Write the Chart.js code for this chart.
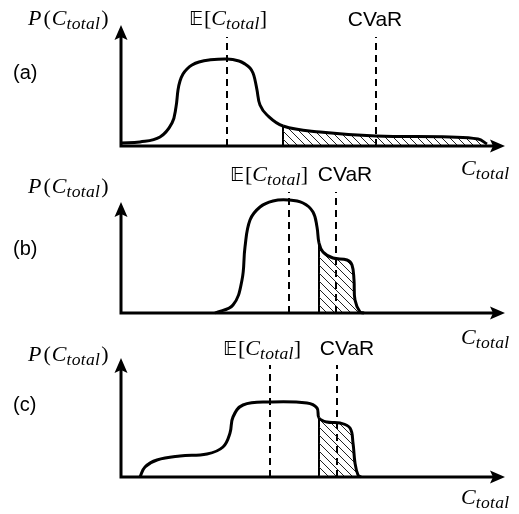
<!DOCTYPE html>
<html>
<head>
<meta charset="utf-8">
<script src="https://cdn.jsdelivr.net/npm/chart.js@4.4.1/dist/chart.umd.min.js"></script>
<style>
  body { margin: 0; background: #fff; }
  #wrap { position: relative; width: 519px; height: 514px; overflow: hidden; background: #fff; }
  canvas { position: absolute; left: 0; }
  .lbl { position: absolute; white-space: nowrap; line-height: 1; color: #000; }
  .math { font-family: "Liberation Serif", "DejaVu Serif", serif; font-size: 22px; }
  .math i { font-style: italic; }
  .math .p { margin-right: 2px; }
  .math .c { margin-left: 1px; }
  .math .r { margin-left: 1px; }
  .sub { position: relative; top: 0.26em; font-size: 0.8em; font-style: italic; letter-spacing: 0.3px; }
  .bb { font-family: "DejaVu Sans", sans-serif; font-size: 0.88em; margin-right: 1px; }
  .sans { font-family: "Liberation Sans", Arial, sans-serif; font-size: 21px; }
  .tag { font-family: "Liberation Sans", Arial, sans-serif; font-size: 20px; }
</style>
</head>
<body>
<div id="wrap">
  <canvas id="chartA" width="519" height="170" style="top:0px"></canvas>
  <canvas id="chartB" width="519" height="170" style="top:170px"></canvas>
  <canvas id="chartC" width="519" height="174" style="top:340px"></canvas>
</div>

<script>
// ================================
// DATA (x = cost, y = density, schematic units)
// ================================
const xMax = 384;

// ---- PANEL (a): long light tail ----
const curveA_x = [0, 19, 39, 51, 55, 57, 59, 62, 66, 71, 78, 88, 106, 118, 124, 129, 132, 134, 136, 139, 146, 162, 199, 255, 329, 357, 366];
const curveA_y = [3, 4, 9, 23, 39, 56, 65, 72, 77, 81, 84, 86, 87, 85, 82, 78, 73, 66, 56, 41, 31, 20, 14, 10, 9, 7, 2];
const meanA = 106;
const cvarA = 255;
const tailA = 162;
const axisTopA = 121;
const markTopA = 109;

// ---- PANEL (b): bump near the tail ----
const curveB_x = [94, 112, 121, 124, 129, 139, 152, 167, 182, 192, 196, 198, 202, 212, 226, 231, 233, 234, 239, 243];
const curveB_y = [0, 8, 33, 66, 93, 106, 112, 113, 110, 101, 86, 70, 61, 55, 53, 48, 33, 13, 1, 0];
const meanB = 168;
const cvarB = 215;
const tailB = 198;
const axisTopB = 111;
const markTopB = 121;

// ---- PANEL (c): wide low shoulder ----
const curveC_x = [19, 24, 36, 59, 86, 102, 109, 112, 122, 149, 186, 196, 198, 206, 219, 229, 232, 234, 237, 240];
const curveC_y = [0, 10, 17, 21, 23, 30, 44, 60, 72, 75, 74, 69, 59, 55, 54, 49, 34, 14, 2, 0];
const meanC = 149;
const cvarC = 216;
const tailC = 198;
const axisTopC = 119;
const markTopC = 112;

// ================================
// HELPERS
// ================================
function toPoints(xs, ys) {
  return xs.map((x, i) => ({ x: x, y: ys[i] }));
}

function hatchPattern() {
  const c = document.createElement("canvas");
  c.width = 8;
  c.height = 8;
  const g = c.getContext("2d");
  g.strokeStyle = "#222";
  g.lineWidth = 1;
  g.beginPath();
  g.moveTo(-2, -2); g.lineTo(10, 10);
  g.moveTo(-2, 6); g.lineTo(2, 10);
  g.moveTo(6, -2); g.lineTo(10, 2);
  g.stroke();
  return g.createPattern(c, "repeat");
}

// ---- axes with arrow heads ----
const arrowAxes = {
  id: "arrowAxes",
  afterDatasetsDraw(chart, args, opts) {
    const ctx = chart.ctx;
    const sx = chart.scales.x, sy = chart.scales.y;
    const x0 = sx.getPixelForValue(0);
    const y0 = sy.getPixelForValue(0);
    const xEnd = sx.getPixelForValue(xMax);
    const yEnd = sy.getPixelForValue(opts.top);
    ctx.save();
    ctx.strokeStyle = "#000";
    ctx.fillStyle = "#000";
    ctx.lineWidth = 3;
    ctx.lineCap = "square";
    ctx.beginPath();
    ctx.moveTo(x0, y0); ctx.lineTo(xEnd - 8, y0);
    ctx.moveTo(x0, y0); ctx.lineTo(x0, yEnd + 8);
    ctx.stroke();
    ctx.beginPath();
    ctx.moveTo(xEnd, y0); ctx.lineTo(xEnd - 15, y0 - 6.5); ctx.lineTo(xEnd - 12, y0); ctx.lineTo(xEnd - 15, y0 + 6.5);
    ctx.closePath();
    ctx.fill();
    ctx.beginPath();
    ctx.moveTo(x0, yEnd); ctx.lineTo(x0 - 6.5, yEnd + 15); ctx.lineTo(x0, yEnd + 12); ctx.lineTo(x0 + 6.5, yEnd + 15);
    ctx.closePath();
    ctx.fill();
    ctx.restore();
  }
};

function makePanel(id, pad, yMax, axisTop, xs, ys, mean, cvar, tail, markTop) {
  const curve = toPoints(xs, ys);
  const tailY = ys[xs.indexOf(tail)];
  const hatch = hatchPattern();
  const dash = { borderColor: "#000", borderWidth: 2, borderDash: [7, 5], pointRadius: 0, fill: false, clip: false, order: 1 };

  return new Chart(document.getElementById(id), {
    type: "line",
    data: {
      datasets: [
        // density curve, hatched beyond the tail threshold
        { data: curve, borderColor: "#000", borderWidth: 3, pointRadius: 0, tension: 0.4,
          fill: "origin", backgroundColor: "rgba(0,0,0,0)", clip: false, order: 0,
          segment: { backgroundColor: c => c.p0.parsed.x >= tail ? hatch : "rgba(0,0,0,0)" } },
        { data: [{ x: tail, y: 0 }, { x: tail, y: tailY }], borderColor: "#000", borderWidth: 2,
          pointRadius: 0, fill: false, clip: false, order: 2 },
        Object.assign({ data: [{ x: mean, y: 0 }, { x: mean, y: markTop }] }, dash),
        Object.assign({ data: [{ x: cvar, y: 0 }, { x: cvar, y: markTop }] }, dash)
      ]
    },
    options: {
      responsive: false,
      animation: false,
      devicePixelRatio: 1,
      layout: { padding: pad },
      plugins: { legend: { display: false }, tooltip: { enabled: false }, arrowAxes: { top: axisTop } },
      scales: {
        x: { type: "linear", min: 0, max: xMax, display: false },
        y: { type: "linear", min: 0, max: yMax, display: false }
      }
    },
    plugins: [arrowAxes]
  });
}

// ================================
// CHARTS
// ================================
makePanel("chartA", { left: 121, right: 14, top: 25, bottom: 24 }, 121, axisTopA,
  curveA_x, curveA_y, meanA, cvarA, tailA, markTopA);
makePanel("chartB", { left: 121, right: 14, top: 22, bottom: 27 }, 121, axisTopB,
  curveB_x, curveB_y, meanB, cvarB, tailB, markTopB);
makePanel("chartC", { left: 121, right: 14, top: 18, bottom: 37 }, 119, axisTopC,
  curveC_x, curveC_y, meanC, cvarC, tailC, markTopC);

// ================================
// LABELS
// ================================
const P_LABEL = '<i class="p">P</i>(<i class="c">C</i><span class="sub">total</span><span class="r">)</span>';
const E_LABEL = '<span class="bb">𝔼</span>[<i>C</i><span class="sub">total</span>]';
const C_LABEL = '<i>C</i><span class="sub">total</span>';
const SIZES = { math: 22, sans: 21, tag: 20 };

function label(html, cls, x, baseline, center) {
  const d = document.createElement("div");
  d.className = "lbl " + cls;
  d.innerHTML = html;
  d.style.left = x + "px";
  d.style.top = (baseline - 0.84 * SIZES[cls]) + "px";
  if (center) d.style.transform = "translateX(-50%)";
  document.getElementById("wrap").appendChild(d);
}

label(P_LABEL, "math", 28, 25);
label(E_LABEL, "math", 228, 25, true);
label("CVaR", "sans", 375, 26, true);
label("(a)", "tag", 13, 79);
label(C_LABEL, "math", 461, 175);

label(P_LABEL, "math", 28, 193);
label(E_LABEL, "math", 269, 181, true);
label("CVaR", "sans", 345, 181, true);
label("(b)", "tag", 13, 255);
label(C_LABEL, "math", 461, 344);

label(P_LABEL, "math", 28, 361);
label(E_LABEL, "math", 262, 355, true);
label("CVaR", "sans", 347, 355, true);
label("(c)", "tag", 13, 411);
label(C_LABEL, "math", 461, 504);
</script>
</body>
</html>
